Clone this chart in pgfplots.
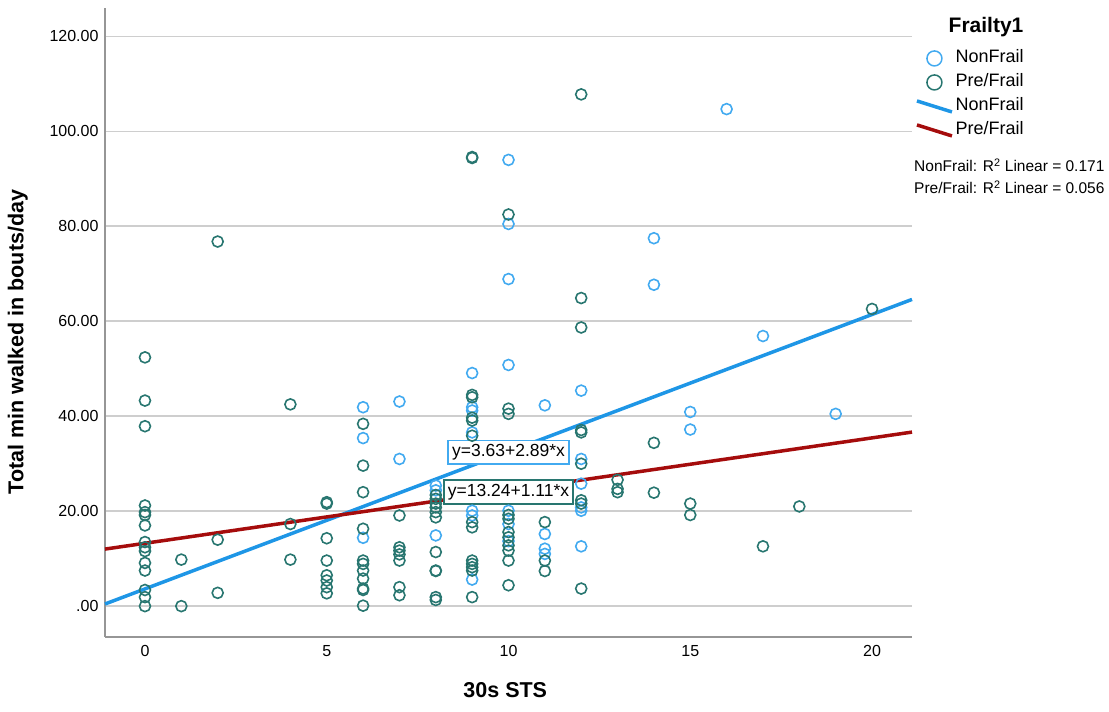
\documentclass[border=0pt]{standalone}
\usepackage{pgfplots}
\pgfplotsset{compat=1.18}
\usepackage{fontspec}
\setmainfont{Liberation Sans}
\definecolor{nfblue}{RGB}{66,170,240}
\definecolor{nfline}{RGB}{30,150,230}
\definecolor{pfgreen}{RGB}{40,118,112}
\definecolor{pfred}{RGB}{165,12,12}
\definecolor{gridgray}{RGB}{206,206,206}
\definecolor{axgray}{RGB}{150,150,150}
\pgfplotsset{
 markleg/.style={legend image code/.code={\path (0pt,0pt) (35pt,0pt); \draw[##1, mark size=7.5pt, line width=1.5pt] plot coordinates {(17.5pt,0pt)};}},
 lineleg/.style={legend image code/.code={\draw[##1] (0pt,5.5pt) -- (35pt,-5.5pt);}},
}
\begin{document}
\begin{tikzpicture}
\begin{axis}[
 scale only axis, width=807pt, height=629pt,
 xmin=-1.1, xmax=21.1, ymin=-6.5, ymax=126,
 axis x line=bottom, axis y line=left,
 axis line style={-, axgray, line width=1.8pt},
 xtick={0,5,10,15,20}, xticklabels={0,5,10,15,20},
 ytick={0,20,40,60,80,100,120}, yticklabels={.00,20.00,40.00,60.00,80.00,100.00,120.00},
 major tick length=0pt,
 ymajorgrids, grid style={gridgray, line width=1.8pt},
 tick label style={font=\fontsize{16}{18}\selectfont, black},
 xticklabel style={yshift=-5pt},
 yticklabel style={xshift=-3pt},
 xlabel={\textbf{30s STS}}, ylabel={\textbf{Total min walked in bouts/day}},
 label style={font=\fontsize{21.5}{24}\selectfont},
 xlabel style={at={(axis description cs:0.496,-0.084)}, anchor=center},
 ylabel style={at={(axis description cs:-0.108,0.469)}, anchor=center},
 clip=false,
 legend style={at={(axis description cs:1.0037,0.936)}, anchor=north west, draw=none, fill=none,
   font=\fontsize{18}{20}\selectfont, inner sep=0pt, row sep=4pt, column sep=0pt,
   nodes={text height=12.5pt, text depth=3.5pt, inner sep=2pt}},
 legend cell align=left,
]
\addplot[only marks, mark=o, mark size=5.5pt, nfblue, line width=1.6pt, markleg]
coordinates {
(6,41.9)(6,35.4)(6,14.4)(7,43.1)(7,31.0)(8,25.4)(8,24.4)(8,14.9)
(9,49.1)(9,41.9)(9,41.2)(9,36.6)(9,20.1)(9,19.1)(9,5.6)
(10,94.0)(10,80.5)(10,68.9)(10,50.8)(10,20.1)(10,17.3)(10,13.7)
(11,42.3)(11,15.2)(11,12.1)(11,11.0)
(12,45.4)(12,31.0)(12,25.8)(12,20.8)(12,20.1)(12,12.6)
(14,77.5)(14,67.7)(15,40.9)(15,37.2)(16,104.7)(17,56.9)(19,40.5)
};
\addlegendentry{NonFrail}
\addplot[only marks, mark=o, mark size=5.5pt, pfgreen, line width=1.6pt, markleg]
coordinates {
(0,52.4)(0,43.3)(0,37.9)(0,21.2)(0,19.8)(0,19.2)(0,17.0)(0,13.5)(0,12.4)(0,11.6)(0,9.1)(0,7.5)(0,3.4)(0,1.9)(0,0.0)
(1,9.8)(1,0.0)
(2,76.8)(2,14.0)(2,2.8)
(4,42.5)(4,17.3)(4,9.8)
(5,21.9)(5,21.6)(5,14.3)(5,9.6)(5,6.5)(5,5.4)(5,4.0)(5,2.7)
(6,38.4)(6,29.6)(6,24.0)(6,16.3)(6,9.6)(6,8.9)(6,7.5)(6,5.8)(6,3.7)(6,3.4)(6,0.1)
(7,19.1)(7,12.4)(7,11.7)(7,10.9)(7,9.6)(7,4.0)(7,2.3)
(8,23.4)(8,22.6)(8,21.6)(8,20.8)(8,19.8)(8,18.7)(8,11.4)(8,7.5)(8,7.4)(8,1.9)(8,1.3)
(9,94.4)(9,94.6)(9,44.5)(9,44.0)(9,39.7)(9,39.1)(9,35.9)(9,17.7)(9,16.6)(9,9.6)(9,8.9)(9,8.2)(9,7.5)(9,1.9)
(10,82.5)(10,41.6)(10,40.5)(10,19.2)(10,18.4)(10,15.6)(10,14.5)(10,12.8)(10,11.7)(10,9.6)(10,4.4)
(11,17.7)(11,9.6)(11,7.4)
(12,107.8)(12,64.9)(12,58.7)(12,37.1)(12,36.6)(12,30.0)(12,22.3)(12,21.6)(12,3.7)
(13,26.6)(13,24.7)(13,24.0)
(14,34.4)(14,23.9)
(15,21.6)(15,19.2)
(17,12.6)(18,21.0)(20,62.6)
};
\addlegendentry{Pre/Frail}
\addplot[nfline, line width=3.5pt, no marks, lineleg]
coordinates {(-1.1,0.451) (21.1,64.609)};
\addlegendentry{NonFrail}
\addplot[pfred, line width=3.5pt, no marks, lineleg]
coordinates {(-1.1,12.019) (21.1,36.661)};
\addlegendentry{Pre/Frail}
\node[draw=nfblue, line width=1.8pt, fill=white, font=\fontsize{17.5}{19}\selectfont, inner sep=4pt] at (axis cs:10.0,32.4) {y=3.63+2.89*x};
\node[draw=pfgreen, line width=1.8pt, fill=white, font=\fontsize{17.5}{19}\selectfont, inner sep=4pt] at (axis cs:10.0,24.0) {y=13.24+1.11*x};
\node[font=\bfseries\fontsize{21}{24}\selectfont, anchor=center] at (axis description cs:1.0917,0.9698) {Frailty1};
\node[font=\fontsize{15.5}{17}\selectfont, anchor=west, inner sep=0pt] at (axis description cs:1.0025,0.7504) {NonFrail: R\textsuperscript{2} Linear = 0.171};
\node[font=\fontsize{15.5}{17}\selectfont, anchor=west, inner sep=0pt] at (axis description cs:1.0025,0.7154) {Pre/Frail: R\textsuperscript{2} Linear = 0.056};
\path (axis description cs:-0.1301,-0.1192) rectangle (axis description cs:1.2441,1.0127);
\end{axis}
\end{tikzpicture}
\end{document}
